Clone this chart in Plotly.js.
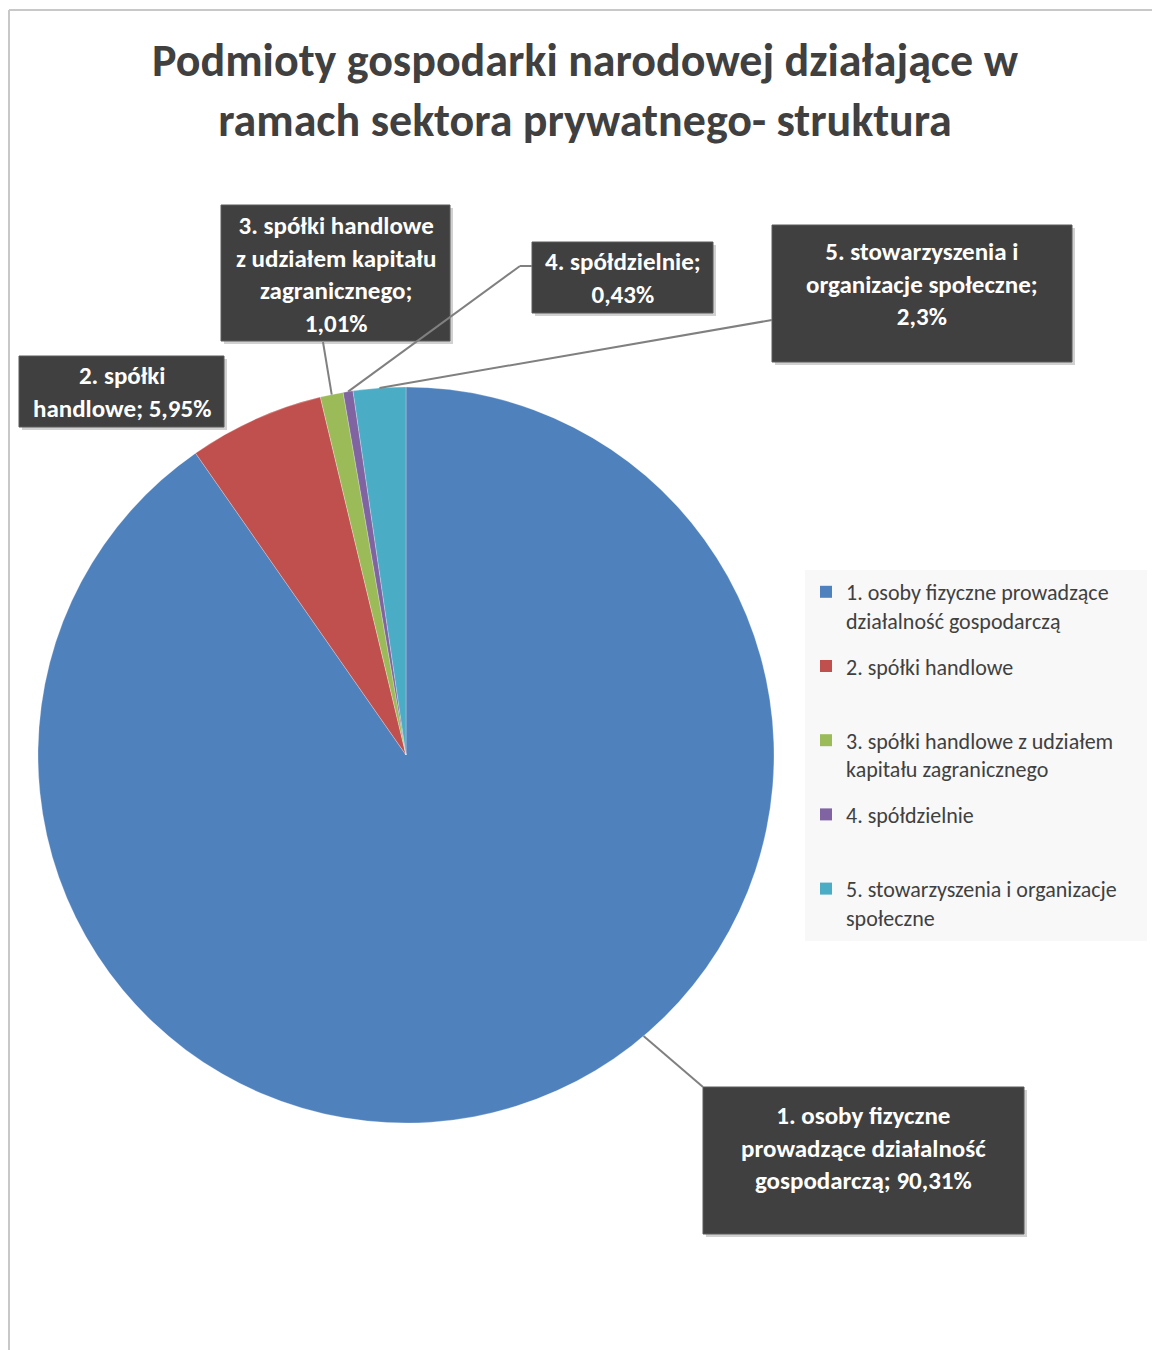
<!DOCTYPE html>
<html>
<head>
<meta charset="utf-8">
<script src="https://cdn.plot.ly/plotly-3.0.1.min.js"></script>
<style>html,body{margin:0;padding:0;background:#fff;}#chart{width:1152px;height:1350px;}</style>
</head>
<body>
<div id="chart"></div>
<script>
// ---- data ----
const categories = [
  "1. osoby fizyczne prowadzące działalność gospodarczą",
  "2. spółki handlowe",
  "3. spółki handlowe z udziałem kapitału zagranicznego",
  "4. spółdzielnie",
  "5. stowarzyszenia i organizacje społeczne"
];
const legendLabels = [
  "1. osoby fizyczne prowadzące<br>działalność gospodarczą",
  "2. spółki handlowe<br> ",
  "3. spółki handlowe z udziałem<br>kapitału zagranicznego",
  "4. spółdzielnie<br> ",
  "5. stowarzyszenia i organizacje<br>społeczne"
];
const values = [90.31, 5.95, 1.01, 0.43, 2.3];
const valueLabels = ["90,31%", "5,95%", "1,01%", "0,43%", "2,3%"];
const boxTexts = [
  "1. osoby fizyczne<br>prowadzące działalność<br>gospodarczą; " + valueLabels[0],
  "2. spółki<br>handlowe; " + valueLabels[1],
  "3. spółki handlowe<br>z udziałem kapitału<br>zagranicznego;<br>" + valueLabels[2],
  "4. spółdzielnie;<br>" + valueLabels[3],
  "5. stowarzyszenia i<br>organizacje społeczne;<br>" + valueLabels[4]
];
const colors = ["#4F81BD", "#C0504D", "#9BBB59", "#8064A2", "#4BACC6"];

// ---- layout constants ----
const W = 1152, H = 1350;
const CX = 406, CY = 755, R = 368;
const FONT = "Carlito, 'Liberation Sans Narrow', 'Open Sans', sans-serif";
const px = x => x / W;
const py = y => 1 - y / H;

// label boxes [x0, y0, x1, y1] in pixels, and vertical centre of their text
const boxes = [
  [703, 1087, 1024, 1234],
  [19, 356, 224, 427],
  [221, 205, 450, 341],
  [532, 242, 713, 313],
  [772, 225, 1072, 362]
];
const textCenterY = [1148, 392, 274, 278, 284];
// where the leader line leaves the box (pixels), null = no leader
const leaderStart = [[703, 1087], null, [323, 342], [[520, 266], [532, 266]], [772, 320]];
const leaderFrac = [0.43, 0.5, 0.5, 0.5, 0.5];

// point on the pie edge computed from the data (clockwise from 12 o'clock)
const total = values.reduce((a, b) => a + b, 0);
function edgePoint(i, frac) {
  let cum = 0;
  for (let k = 0; k < i; k++) cum += values[k];
  const ang = (cum + values[i] * frac) / total * 2 * Math.PI;
  return [CX + R * Math.sin(ang), CY - R * Math.cos(ang)];
}

const shapes = [
  // outer frame
  {type: "line", xref: "paper", yref: "paper", x0: px(9), x1: 1, y0: py(10), y1: py(10), line: {color: "#C8C8C8", width: 2}},
  {type: "line", xref: "paper", yref: "paper", x0: px(9), x1: px(9), y0: py(10), y1: 0, line: {color: "#C8C8C8", width: 2}},
  // legend panel
  {type: "rect", xref: "paper", yref: "paper", layer: "below", x0: px(805), x1: px(1147), y0: py(941), y1: py(570), fillcolor: "#F8F8F8", line: {width: 0}}
];
const annotations = [];

boxes.forEach((b, i) => {
  shapes.push({type: "rect", xref: "paper", yref: "paper", layer: "above",
    x0: px(b[0] + 3), x1: px(b[2] + 3), y0: py(b[3] + 3), y1: py(b[1] + 3),
    fillcolor: "rgba(0,0,0,0.18)", line: {width: 0}});
  shapes.push({type: "rect", xref: "paper", yref: "paper", layer: "above",
    x0: px(b[0]), x1: px(b[2]), y0: py(b[3]), y1: py(b[1]),
    fillcolor: "#404040", line: {color: "#5a5a5a", width: 1}});
  annotations.push({
    xref: "paper", yref: "paper",
    x: px((b[0] + b[2]) / 2), y: py(textCenterY[i]),
    xanchor: "center", yanchor: "middle",
    text: "<b>" + boxTexts[i] + "</b>", showarrow: false, align: "center",
    font: {family: FONT, size: 25, color: "#FFFFFF"}
  });
  const ls = leaderStart[i];
  if (ls) {
    const tip = edgePoint(i, leaderFrac[i]);
    let start = ls;
    if (Array.isArray(ls[0])) {
      shapes.push({type: "line", xref: "paper", yref: "paper", x0: px(ls[0][0]), y0: py(ls[0][1]), x1: px(ls[1][0]), y1: py(ls[1][1]), line: {color: "#808080", width: 2}});
      start = ls[0];
    }
    shapes.push({type: "line", xref: "paper", yref: "paper", layer: "above",
      x0: px(start[0]), y0: py(start[1]), x1: px(tip[0]), y1: py(tip[1]),
      line: {color: "#808080", width: 2}});
  }
});

const pie = {
  type: "pie",
  labels: categories,
  values: values,
  sort: false,
  direction: "clockwise",
  rotation: 0,
  textinfo: "none",
  hoverinfo: "none",
  showlegend: false,
  marker: {colors: colors, line: {color: "rgba(255,255,255,0.5)", width: 0.5}},
  domain: {x: [px(CX - R), px(CX + R)], y: [py(CY + R), py(CY - R)]}
};

// legend entries (one per category, no data drawn)
const legendTraces = categories.map((c, i) => ({
  type: "scatter", mode: "markers", x: [null], y: [null],
  name: legendLabels[i], legendgroup: "g" + i, showlegend: true,
  marker: {symbol: "square", size: 12, color: colors[i]},
  hoverinfo: "skip"
}));

const layout = {
  width: W, height: H,
  margin: {l: 0, r: 0, t: 0, b: 0},
  paper_bgcolor: "#FFFFFF",
  plot_bgcolor: "rgba(0,0,0,0)",
  xaxis: {visible: false},
  yaxis: {visible: false},
  title: {
    text: "<b>Podmioty gospodarki narodowej działające w<br>ramach sektora prywatnego- struktura</b>",
    font: {family: FONT, size: 46, color: "#404040"},
    x: px(585), xanchor: "center", xref: "paper",
    y: py(76), yanchor: "middle", yref: "container"
  },
  showlegend: true,
  legend: {
    x: px(806), y: py(571), xanchor: "left", yanchor: "top",
    bgcolor: "rgba(0,0,0,0)", borderwidth: 0,
    font: {family: FONT, size: 22, color: "#404040"},
    valign: "top", itemwidth: 30, traceorder: "grouped", tracegroupgap: 14
  },
  shapes: shapes,
  annotations: annotations
};

Plotly.newPlot("chart", [pie].concat(legendTraces), layout, {displayModeBar: false, staticPlot: true});
</script>
</body>
</html>
